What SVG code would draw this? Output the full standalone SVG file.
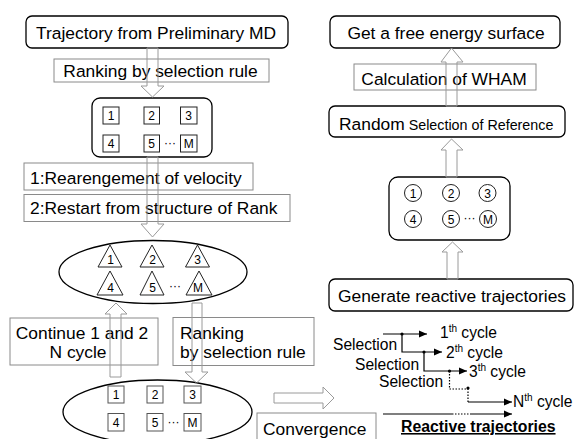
<svg xmlns="http://www.w3.org/2000/svg" width="578" height="439" viewBox="0 0 578 439">
<defs>
<style>
text{font-family:"Liberation Sans",Arial,sans-serif;fill:#000}
.t{font-size:17.4px}
.n{font-size:12px;text-anchor:middle}
.s{font-size:15.6px}
.sup{font-size:10px}
.rb{fill:none;stroke:#000;stroke-width:1.3}
.gb{fill:none;stroke:#8a8a8a;stroke-width:1}
.sq{fill:none;stroke:#222;stroke-width:1}
.sq2{fill:none;stroke:#555;stroke-width:1}
.ha{fill:none;stroke:#9a9a9a;stroke-width:1}
.ln{fill:none;stroke:#000;stroke-width:1.2}
.dt{fill:none;stroke:#000;stroke-width:1.2;stroke-dasharray:1.5 1.5}
</style>
<marker id="ah" markerUnits="userSpaceOnUse" markerWidth="9" markerHeight="8" refX="8" refY="4" orient="auto">
<path d="M0,0.5 L8,4 L0,7.5 Z" fill="#000"/>
</marker>
</defs>
<rect width="578" height="439" fill="#fff"/>

<g id="n-trajectory">
<rect class="rb" x="26" y="16" width="262" height="32" rx="6"/>
<text class="t" x="156" y="39" text-anchor="middle">Trajectory from Preliminary MD</text>
</g>
<g id="n-ranking1">
<rect class="gb" x="54" y="59" width="215" height="23"/>
<text class="t" x="160.5" y="77" text-anchor="middle">Ranking by selection rule</text>
</g>
<g id="n-ranked">
<rect class="rb" x="92" y="98" width="120" height="59" rx="8"/>
<rect class="sq" x="103" y="107" width="16" height="17"/><text class="n" x="111" y="120">1</text>
<rect class="sq" x="144" y="107" width="15.5" height="17"/><text class="n" x="151.7" y="120">2</text>
<rect class="sq" x="180.5" y="107" width="16.5" height="17"/><text class="n" x="188.7" y="120">3</text>
<rect class="sq" x="103" y="135" width="16" height="17"/><text class="n" x="111" y="148">4</text>
<rect class="sq" x="144" y="135" width="15.5" height="17"/><text class="n" x="151.7" y="148">5</text>
<text class="n" x="170" y="147">···</text>
<rect class="sq" x="180.5" y="135" width="16.5" height="17"/><text class="n" x="188.7" y="148">M</text>
</g>
<g id="n-step1">
<rect class="gb" x="24" y="163" width="229" height="27"/>
<text class="t" x="30" y="184">1:Rearengement of velocity</text>
</g>
<g id="n-step2">
<rect class="gb" x="24" y="194.5" width="266" height="27"/>
<text class="t" x="30" y="214">2:Restart from structure of Rank</text>
</g>
<g id="n-triangles">
<ellipse class="rb" cx="153" cy="272" rx="94" ry="31.5"/>
<polygon class="sq" points="110,245 98,267 122,267"/><text class="n" x="110.5" y="264">1</text>
<polygon class="sq" points="152,245 140,267 164,267"/><text class="n" x="152.5" y="264">2</text>
<polygon class="sq" points="197.5,245 185.5,267 209.5,267"/><text class="n" x="197.5" y="264">3</text>
<polygon class="sq" points="110,271 97,295 123,295"/><text class="n" x="110.5" y="292">4</text>
<polygon class="sq" points="152,271 140,295 164,295"/><text class="n" x="152.5" y="292">5</text>
<text class="n" x="175" y="290">···</text>
<polygon class="sq" points="199,271 186,295 212,295"/><text class="n" x="198" y="292">M</text>
</g>
<g id="n-continue">
<rect class="gb" x="10" y="318" width="148" height="47"/>
<text class="t" x="82" y="338.5" text-anchor="middle">Continue 1 and 2</text>
<text class="t" x="78" y="358" text-anchor="middle">N cycle</text>
</g>
<g id="n-ranking2">
<rect class="gb" x="173" y="317.5" width="141" height="48"/>
<text class="t" x="180" y="338.5">Ranking</text>
<text class="t" x="180" y="358">by selection rule</text>
</g>
<g id="n-ranked2">
<ellipse class="rb" cx="157.5" cy="412" rx="94.5" ry="32"/>
<rect class="sq2" x="108" y="386" width="16" height="17"/><text class="n" x="116" y="399">1</text>
<rect class="sq2" x="147" y="386" width="16" height="17"/><text class="n" x="155" y="399">2</text>
<rect class="sq2" x="184" y="386" width="17" height="17"/><text class="n" x="192.5" y="399">3</text>
<rect class="sq2" x="108" y="413.5" width="16" height="17.5"/><text class="n" x="116" y="427">4</text>
<rect class="sq2" x="147" y="413.5" width="16" height="17.5"/><text class="n" x="155" y="427">5</text>
<text class="n" x="173.5" y="426">···</text>
<rect class="sq2" x="184" y="413.5" width="17" height="17.5"/><text class="n" x="192.5" y="427">M</text>
</g>
<g id="n-convergence">
<rect class="gb" x="257" y="413" width="119" height="30"/>
<text class="t" x="263" y="435">Convergence</text>
</g>

<g id="n-free-energy">
<rect class="rb" x="330" y="16" width="230" height="32" rx="6"/>
<text class="t" x="446" y="39" text-anchor="middle">Get a free energy surface</text>
</g>
<g id="n-wham">
<rect class="gb" x="354" y="64" width="182" height="26"/>
<text class="t" x="444" y="84.5" text-anchor="middle">Calculation of WHAM</text>
</g>
<g id="n-random">
<rect class="rb" x="329" y="106" width="236" height="31" rx="6"/>
<text x="339" y="130"><tspan class="t">Random</tspan><tspan font-size="14.3px"> Selection of Reference</tspan></text>
</g>
<g id="n-circles">
<rect class="rb" x="389" y="177" width="121" height="63" rx="9"/>
<circle class="sq" cx="413" cy="193" r="8.5"/><text class="n" x="413" y="197.5">1</text>
<circle class="sq" cx="451" cy="193" r="8.5"/><text class="n" x="451" y="197.5">2</text>
<circle class="sq" cx="487.5" cy="193" r="8.5"/><text class="n" x="487.5" y="197.5">3</text>
<circle class="sq" cx="413" cy="219" r="8.5"/><text class="n" x="413" y="223.5">4</text>
<circle class="sq" cx="451" cy="219" r="8.5"/><text class="n" x="451" y="223.5">5</text>
<text class="n" x="469.5" y="222">···</text>
<circle class="sq" cx="488" cy="219" r="8.5"/><text class="n" x="488" y="223.5">M</text>
</g>
<g id="n-generate">
<rect class="rb" x="329" y="279" width="244" height="32" rx="6"/>
<text class="t" x="452" y="302" text-anchor="middle">Generate reactive trajectories</text>
</g>

<g id="n-cycles">
<text class="s" x="333" y="350">Selection</text>
<text class="s" x="355" y="370">Selection</text>
<text class="s" x="379" y="387">Selection</text>
<text class="s" x="440" y="338">1<tspan class="sup" dy="-6">th</tspan><tspan dy="6"> cycle</tspan></text>
<text class="s" x="446" y="358">2<tspan class="sup" dy="-6">th</tspan><tspan dy="6"> cycle</tspan></text>
<text class="s" x="469" y="377">3<tspan class="sup" dy="-6">th</tspan><tspan dy="6"> cycle</tspan></text>
<text class="s" x="513" y="407">N<tspan class="sup" dy="-6">th</tspan><tspan dy="6"> cycle</tspan></text>
<text x="401" y="432" font-size="15.8px" font-weight="bold" text-decoration="underline">Reactive trajectories</text>
</g>

<g id="connectors">
<polygon class="ha" points="147,48 158,48 158,86 164,86 152.5,97 141,86 147,86"/>
<polygon class="ha" points="147,157 158,157 158,224 164,224 152.5,237 141,224 147,224"/>
<polygon class="ha" points="110,377 121,377 121,314 127,314 116,303 105,314 110,314"/>
<polygon class="ha" points="192,303 202,303 202,372 208,372 196.5,383 185,372 192,372"/>
<polygon class="ha" points="274,393 323,393 323,387 334,398 323,409 323,403 274,403"/>
<polygon class="ha" points="446,106 457,106 457,62 463,62 451.5,48 441,62 446,62"/>
<polygon class="ha" points="446,177 457,177 457,150 463,150 451.5,139 441,150 446,150"/>
<polygon class="ha" points="447,279 458,279 458,252 463,252 452.5,242 442,252 447,252"/>

<line class="ln" x1="383" y1="334" x2="427" y2="334" marker-end="url(#ah)"/>
<polyline class="ln" points="402,334 402,352 442,352" marker-end="url(#ah)"/>
<polyline class="ln" points="424,352 424,371 467,371" marker-end="url(#ah)"/>
<polyline class="dt" points="449.5,371 449.5,389 468,389 468,402"/>
<line class="ln" x1="468" y1="402" x2="512" y2="402" marker-end="url(#ah)"/>
<circle cx="402" cy="334" r="1.6"/>
<circle cx="424" cy="352" r="1.6"/>
<circle cx="449.5" cy="371" r="1.6"/>
<circle cx="468" cy="388" r="1.6"/>
<line class="ln" x1="383" y1="414" x2="452" y2="414"/>
<line class="dt" x1="452" y1="414" x2="470" y2="414"/>
<line class="ln" x1="470" y1="414" x2="512" y2="414" marker-end="url(#ah)"/>
</g>
</svg>
